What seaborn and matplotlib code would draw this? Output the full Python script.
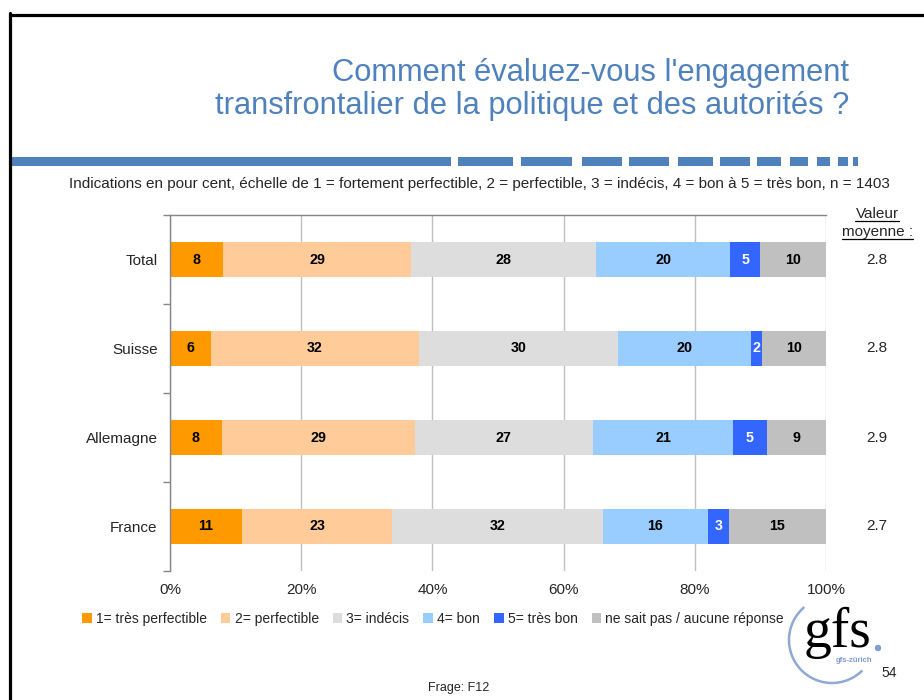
import pandas as pd
import matplotlib
matplotlib.use("Agg")
import matplotlib.pyplot as plt
import matplotlib.patches as mpatches
from matplotlib.transforms import blended_transform_factory
import seaborn as sns

# Daten (Angaben in Prozent)
categories = ["Total", "Suisse", "Allemagne", "France"]
series = ["1= très perfectible", "2= perfectible", "3= indécis", "4= bon",
          "5= très bon", "ne sait pas / aucune réponse"]
tres_perfectible = [8.1, 6.3, 7.9, 11.0]
perfectible = [28.6, 31.6, 29.4, 22.8]
indecis = [28.3, 30.4, 27.2, 32.2]
bon = [20.4, 20.3, 21.3, 16.0]
tres_bon = [4.6, 1.6, 5.2, 3.2]
nsp = [10.0, 9.8, 9.0, 14.8]
moyennes = ["2.8", "2.8", "2.9", "2.7"]
xticks = [0, 20, 40, 60, 80, 100]
xtick_labels = ["0%", "20%", "40%", "60%", "80%", "100%"]
colors = ["#FF9900", "#FFCC99", "#DDDDDD", "#99CCFF", "#3366FF", "#C0C0C0"]

sns.set_style("white")
plt.rcParams["font.family"] = ["Liberation Sans", "DejaVu Sans"]

W, H = 924, 700
blue = "#4F81BD"


def fx(x):
    return x / W


def fy(y):
    return 1 - y / H


fig = plt.figure(figsize=(W / 100, H / 100), dpi=100)

# Deko-Ebene in Pixelkoordinaten (Rahmen, Balken, Logo)
deco = fig.add_axes([0, 0, 1, 1], zorder=0)
deco.set_xlim(0, W)
deco.set_ylim(H, 0)
deco.axis("off")
deco.plot([10, 10], [13, H], color="black", lw=2.3, clip_on=False)
deco.plot([10, W], [14.5, 14.5], color="black", lw=2.3, clip_on=False)
for x0, x1 in [(10, 451), (458, 513), (521, 572), (582, 622), (629, 669), (678, 713),
               (720, 750), (757, 781), (790, 808), (817, 830), (838, 848), (853, 858)]:
    deco.add_patch(mpatches.Rectangle((x0, 157), x1 - x0, 9, color=blue, lw=0))

# Logo gfs
deco.add_patch(mpatches.Arc((832, 640), 86, 86, theta1=45, theta2=230,
                            color="#8FA8D8", lw=1.8))
deco.text(838, 647, "gfs", fontsize=40, family="Liberation Serif", ha="center",
          va="baseline", color="black")
deco.add_patch(mpatches.Circle((878, 648), 2.5, color="#7F9BD0"))
deco.text(854, 661, "gfs-zürich", fontsize=5.5, fontweight="bold", ha="center",
          va="center", color="#7F9BD0")
deco.text(889, 673, "54", fontsize=10, ha="center", va="center")

# Titel
fig.text(fx(849), fy(81), "Comment évaluez-vous l'engagement", ha="right",
         va="baseline", fontsize=22.2, color=blue)
fig.text(fx(849), fy(114), "transfrontalier de la politique et des autorités ?",
         ha="right", va="baseline", fontsize=22.2, color=blue)
fig.text(fx(479), fy(184),
         "Indications en pour cent, échelle de 1 = fortement perfectible, 2 = perfectible, "
         "3 = indécis, 4 = bon à 5 = très bon, n = 1403",
         ha="center", va="center", fontsize=11)

# Gestapelte Balken
ax = fig.add_axes([fx(170), fy(571), 656 / W, 356 / H], zorder=2)
df = pd.DataFrame(dict(zip(series, [tres_perfectible, perfectible, indecis, bon, tres_bon, nsp])),
                  index=categories)
cum = df.cumsum(axis=1)
for k in reversed(range(len(series))):
    sns.barplot(x=cum.iloc[:, k].values, y=categories, color=colors[k], saturation=1,
                width=0.4, orient="h", errorbar=None, linewidth=0, edgecolor="none", ax=ax)

for k in range(len(series)):
    centers = cum.iloc[:, k] - df.iloc[:, k] / 2
    for i, cat in enumerate(categories):
        ax.text(centers.iloc[i], i, f"{df.iloc[i, k]:.0f}", ha="center", va="center",
                fontsize=10.3, fontweight="bold",
                color="white" if k == 4 else "black")

ax.set_xlim(0, 100)
ax.set_ylim(3.5, -0.5)
ax.set_xlabel("")
ax.set_ylabel("")
ax.set_xticks(xticks, xtick_labels)
ax.tick_params(axis="x", length=0, pad=9, labelsize=11)
ax.tick_params(axis="y", which="major", length=0, pad=9, labelsize=11)
ax.set_yticks([-0.5, 0.5, 1.5, 2.5, 3.5], minor=True)
ax.tick_params(axis="y", which="minor", length=5, color="#868686", width=1, left=True)
ax.xaxis.grid(True, color="#BFBFBF", lw=1)
ax.yaxis.grid(False)
ax.set_axisbelow(True)
for side in ["bottom", "right"]:
    ax.spines[side].set_visible(False)
for side in ["top", "left"]:
    ax.spines[side].set_color("#868686")
    ax.spines[side].set_linewidth(1)
ax.patch.set_alpha(0)

# Mittelwerte
tr = blended_transform_factory(fig.transFigure, ax.transData)
for i, m in enumerate(moyennes):
    ax.text(fx(877), i, m, transform=tr, ha="center", va="center", fontsize=11, clip_on=False)

t1 = fig.text(fx(877), fy(218), "Valeur", ha="center", va="baseline", fontsize=11)
t2 = fig.text(fx(877), fy(236), "moyenne :", ha="center", va="baseline", fontsize=11)
fig.canvas.draw()
for t, yb in [(t1, 220.5), (t2, 238.5)]:
    bb = t.get_window_extent()
    deco.plot([bb.x0, bb.x1], [yb, yb], color="black", lw=0.9, clip_on=False)

# Legende
handles = [mpatches.Patch(color=c, lw=0) for c in colors]
fig.legend(handles, series, loc="center", bbox_to_anchor=(fx(433), fy(619)), ncol=6,
           frameon=False, fontsize=10, handlelength=0.7, handleheight=0.7,
           handletextpad=0.3, columnspacing=1.0, borderaxespad=0, borderpad=0)

fig.text(fx(459), fy(688), "Frage: F12", ha="center", va="center", fontsize=9)

fig.savefig("out.png", dpi=100)
